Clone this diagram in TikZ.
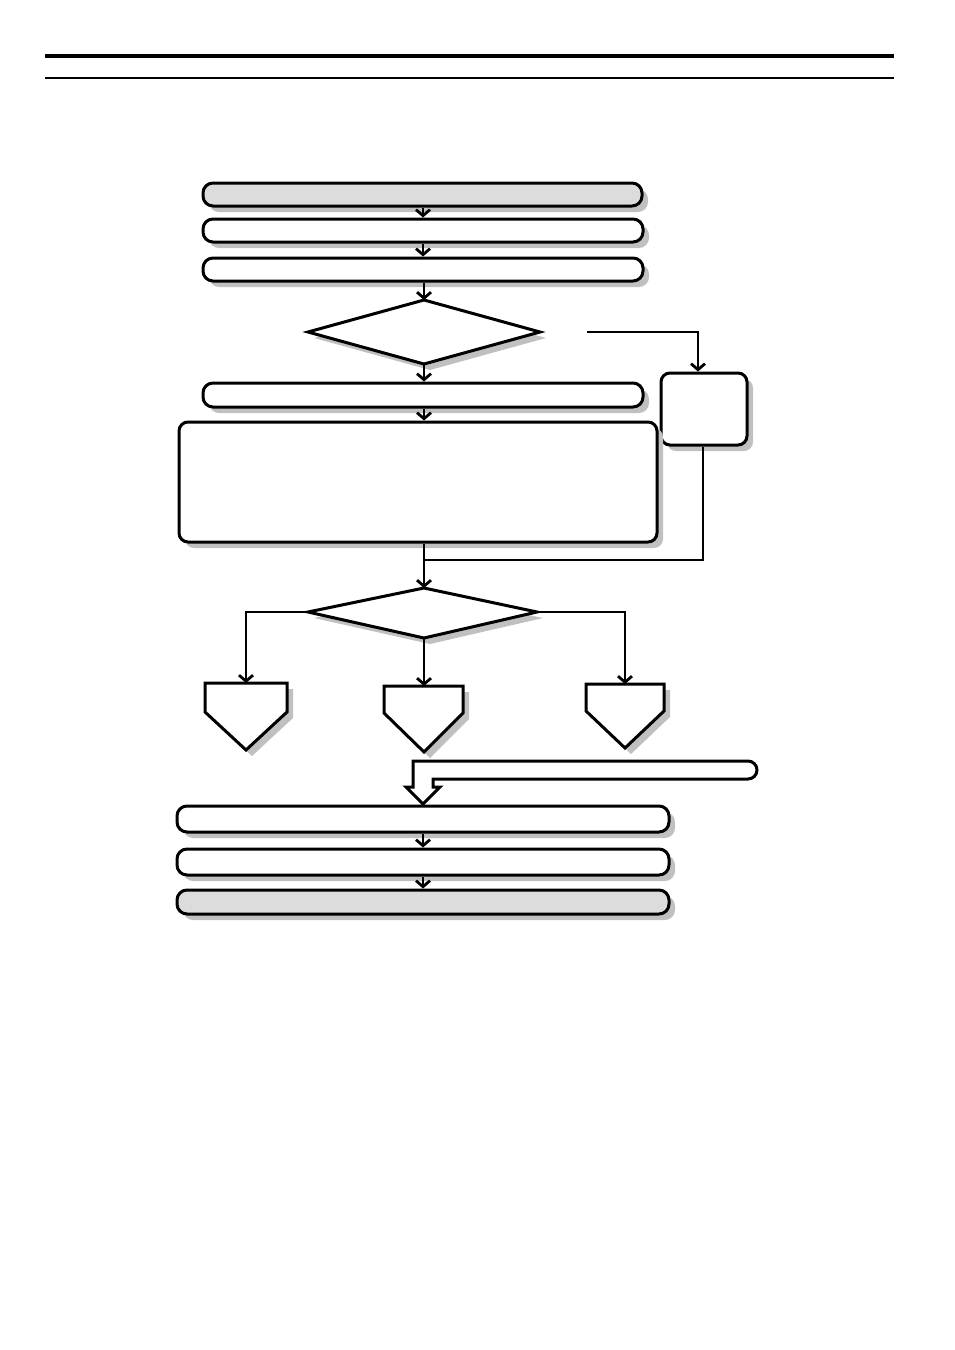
\documentclass[tikz,border=0pt]{standalone}
\usetikzlibrary{arrows.meta,shadows}
\definecolor{shadowgray}{HTML}{C0C0C0}
\definecolor{fillgray}{HTML}{DCDCDC}
\tikzset{
  shadowed/.style={drop shadow={shadow xshift=6pt,shadow yshift=-6pt,fill=shadowgray,opacity=1}},
  pill/.style={draw,line width=3pt,rounded corners=10pt,fill=white,shadowed,inner sep=0pt,minimum height=24pt},
  roundbox/.style={draw,line width=3pt,rounded corners=9pt,fill=white,shadowed,inner sep=0pt},
  outl/.style={draw,line width=3pt,fill=white,shadowed,line join=miter},
  conn/.style={line width=2.8pt,-{Straight Barb[length=6pt,width=14pt]}},
  plain/.style={line width=2.8pt},
  rule/.style={line width=3.5pt}
}
\begin{document}
\begin{tikzpicture}[x=1pt,y=-1pt]
\useasboundingbox (0,0) rectangle (954,1350);
% header rules
\coordinate (r1a) at (45,56); \coordinate (r1b) at (894,56);
\coordinate (r2a) at (45,78); \coordinate (r2b) at (894,78);
\draw[rule] (r1a) -- (r1b);
\draw[line width=2.6pt] (r2a) -- (r2b);

% top pills
\node[pill,fill=fillgray,minimum width=439pt,minimum height=23pt] (A) at (422.5,194.5) {};
\node[pill,minimum width=440pt,minimum height=23pt] (B) at (423,230.5) {};
\node[pill,minimum width=440pt,minimum height=23pt] (C) at (423,269.5) {};

% diamond 1
\coordinate (d1t) at (424,300); \coordinate (d1b) at (424,364);
\coordinate (d1l) at (308,332); \coordinate (d1r) at (540,332);
\draw[outl] (d1t) -- (d1r) -- (d1b) -- (d1l) -- cycle;

\node[pill,minimum width=440pt,minimum height=24pt] (E) at (423,395) {};
\node[roundbox,minimum width=86pt,minimum height=72pt] (R) at (704,409) {};
\node[roundbox,minimum width=478pt,minimum height=120pt] (F) at (418,482) {};

% diamond 2
\coordinate (d2t) at (424,588); \coordinate (d2b) at (424,638);
\coordinate (d2l) at (308,612); \coordinate (d2r) at (537,612);
\draw[outl] (d2t) -- (d2r) -- (d2b) -- (d2l) -- cycle;

% pentagons
\coordinate (p1t) at (246,683); \coordinate (p1tip) at (246,750);
\draw[outl] (205,683) -- (287,683) -- (287,712) -- (p1tip) -- (205,712) -- cycle;
\coordinate (p2t) at (424,686); \coordinate (p2tip) at (424,752);
\draw[outl] (384,686) -- (463,686) -- (463,713) -- (p2tip) -- (384,713) -- cycle;
\coordinate (p3t) at (625,684); \coordinate (p3tip) at (625,748);
\draw[outl] (586,684) -- (664,684) -- (664,711) -- (p3tip) -- (586,711) -- cycle;

% bottom pills
\node[pill,minimum width=492pt,minimum height=26pt] (G) at (423,819) {};
\node[pill,minimum width=492pt,minimum height=26pt] (H) at (423,862) {};
\node[pill,fill=fillgray,minimum width=492pt,minimum height=24pt] (I) at (423,902) {};

% hollow arrow
\coordinate (hatip) at (423,804);
\draw[line width=3pt,fill=white,line join=miter]
  (413,761) -- (748,761) arc[start angle=90,end angle=-90,radius=9pt] -- (433,779)
  -- (433,787) -- (440,787) -- (hatip) -- (406,787) -- (413,787) -- cycle;

% connectors
\draw[conn] (A.south -| B.north) -- (B.north);
\draw[conn] (B.south) -- (C.north);
\draw[conn] (C.south -| d1t) -- (d1t);
\draw[conn] (d1b) -- (E.north -| d1b);
\draw[conn] (E.south -| d1b) -- (F.north -| d1b);
\coordinate (yesstart) at (587,332);
\coordinate (yescorner) at (698,332);
\draw[conn] (yesstart) -- (yescorner) -- (R.north -| yescorner);
\coordinate (join) at (424,560);
\coordinate (rcorner) at (703,560);
\draw[plain] (R.south -| rcorner) -- (rcorner) -- (join);
\draw[conn] (F.south -| d2t) -- (d2t);
\draw[conn] (d2l) -- (d2l -| p1t) -- (p1t);
\draw[conn] (d2b) -- (p2t);
\draw[conn] (d2r) -- (d2r -| p3t) -- (p3t);
\draw[conn] (G.south) -- (H.north);
\draw[conn] (H.south) -- (I.north);
\end{tikzpicture}
\end{document}
